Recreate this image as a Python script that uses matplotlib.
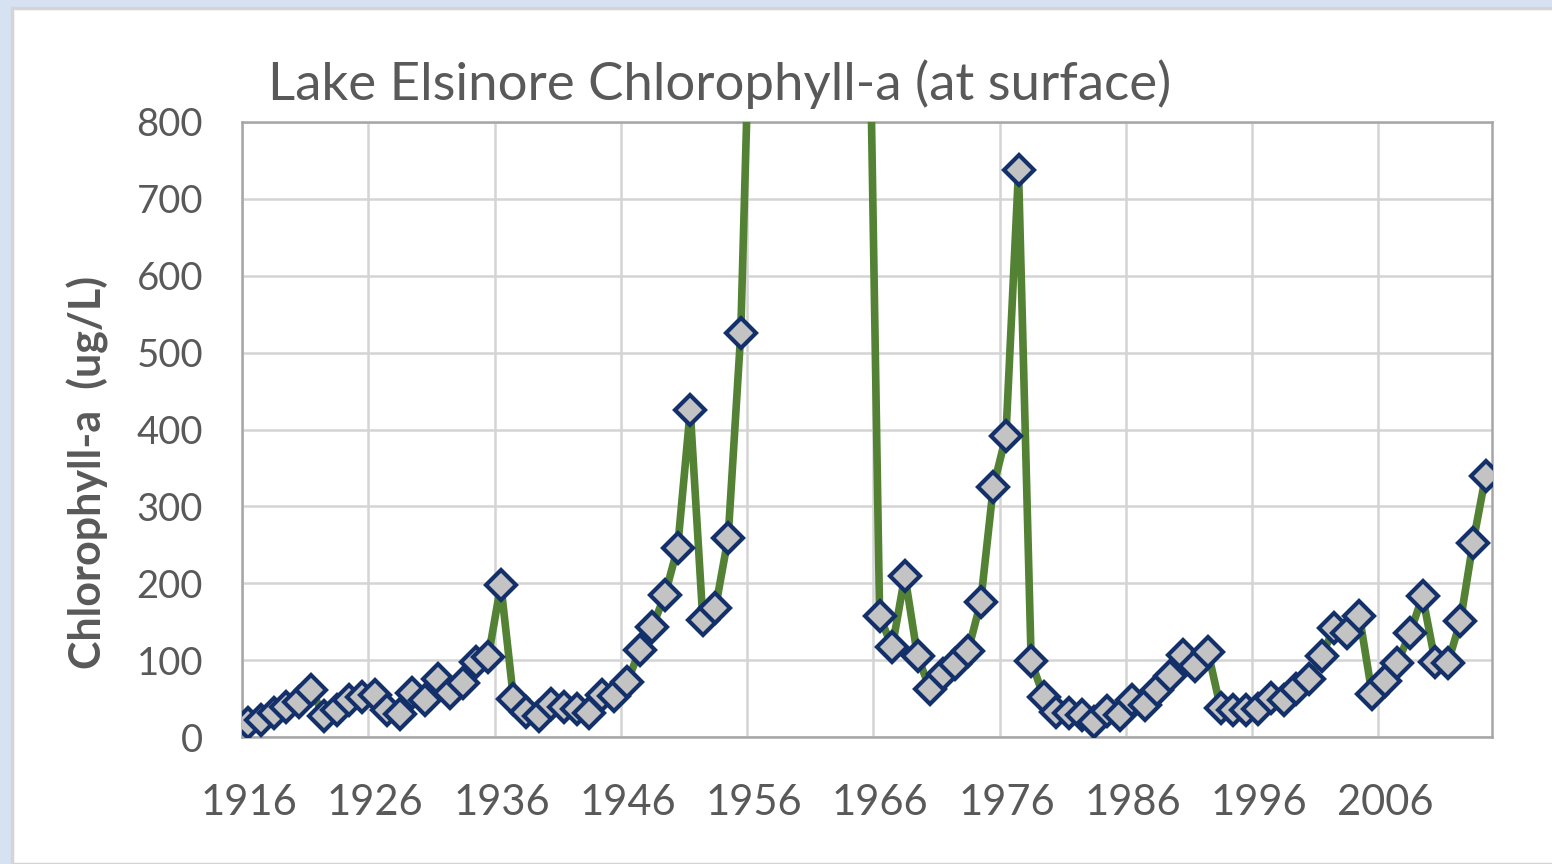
import numpy as np
import matplotlib.pyplot as plt
import matplotlib.transforms as mtransforms
from matplotlib.patches import Rectangle

# yearly surface chlorophyll-a, ug/L (1957-1964 are off the top of the chart)
years = list(range(1916, 2015))
chl = [18, 22, 31, 39, 46, 61, 27, 35, 48, 52,
       55, 35, 30, 57, 48, 76, 57, 70, 98, 104,
       198, 50, 32, 27, 43, 39, 36, 31, 54, 53,
       71, 113, 143, 185, 246, 425, 152, 168, 259, 525,
       1120, 1400, 1700, 2000, 2200, 2100, 1800, 1500, 1300, 1160,
       157, 117, 210, 105, 62, 82, 95, 112, 175, 325,
       391, 737, 99, 52, 32, 31, 28, 19, 34, 29,
       48, 41, 61, 79, 107, 92, 111, 38, 35, 35,
       37, 51, 48, 62, 76, 105, 142, 135, 157, 56,
       73, 96, 135, 183, 98, 96, 151, 253, 340]

tick_years = list(range(1916, 2007, 10))
y_ticks = list(range(0, 801, 100))

title = "Lake Elsinore Chlorophyll-a (at surface)"
ylabel = "Chlorophyll-a  (ug/L)"

text_color = "#595959"
plt.rcParams["font.family"] = ["Lato", "DejaVu Sans"]

fig = plt.figure(figsize=(15.52, 8.64), dpi=100)
fig.patch.set_facecolor("#d6e2f1")

# white chart area like the slide object
W, H = 1552, 864
bg = Rectangle((12 / W, 0), 1.0, (H - 8) / H, transform=fig.transFigure,
               facecolor="white", edgecolor="#d4d4d4", linewidth=2.5, zorder=-10)
fig.add_artist(bg)

ax = fig.add_axes([242 / W, 1 - 737 / H, (1492 - 242) / W, (737 - 122) / H])
ax.set_facecolor("white")

ax.plot(years, chl, color="#548235", linewidth=5.5, marker="D", markersize=15.5,
        markerfacecolor="#c3c3c3", markeredgecolor="#13306b", markeredgewidth=3.0,
        zorder=3)

ax.set_xlim(1915.5, 2014.5)
ax.set_ylim(0, 800)
ax.set_xticks([y - 0.5 for y in tick_years])
ax.set_xticklabels([str(y) for y in tick_years])
ax.set_yticks(y_ticks)

ax.grid(True, color="#d4d4d4", linewidth=1.8)
ax.set_axisbelow(True)
for s in ax.spines.values():
    s.set_color("#a6a6a6")
    s.set_linewidth(1.8)

ax.tick_params(axis="both", length=0, colors=text_color)
ax.tick_params(axis="y", labelsize=27.5, pad=28)
ax.tick_params(axis="x", labelsize=30, pad=34)

# year labels sit a little right of the gridlines, as in the original
shift = mtransforms.ScaledTranslation(7 / 100, 0, fig.dpi_scale_trans)
for lab in ax.get_xticklabels():
    lab.set_transform(lab.get_transform() + shift)

fig.text(268 / W, 1 - 100 / H, title, fontsize=38, color=text_color,
         ha="left", va="baseline")
fig.text(88 / W, 1 - 472 / H, ylabel, fontsize=31, fontweight="bold",
         color=text_color, rotation=90, ha="center", va="center")

fig.savefig("out.png", dpi=100, facecolor=fig.get_facecolor())
